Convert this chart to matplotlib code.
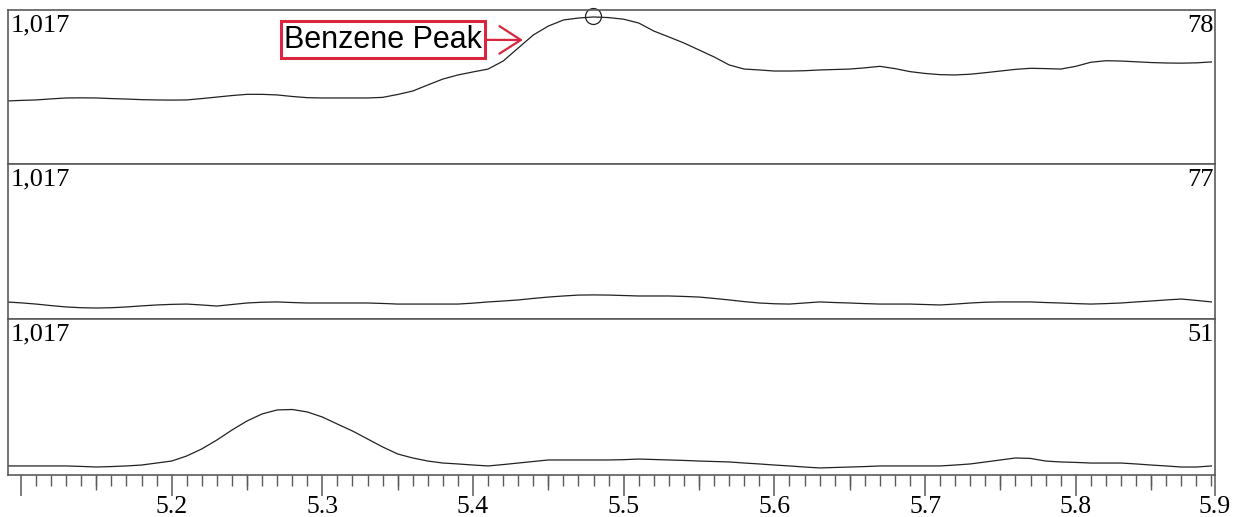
import numpy as np
import matplotlib
matplotlib.use("Agg")
import matplotlib.pyplot as plt
from matplotlib.ticker import FixedLocator, MultipleLocator

# tiempos de retención (min), paso 0.01
tiempos = [round(5.09 + 0.01 * i, 2) for i in range(81)]

# ion m/z 78
ion_78 = [416, 420, 423, 430, 436, 437, 436, 432, 429, 425,
          423, 422, 423, 432, 442, 452, 460, 460, 456, 446,
          438, 436, 436, 436, 436, 440, 459, 482, 522, 561,
          588, 608, 627, 680, 766, 852, 911, 951, 964, 971,
          967, 956, 931, 878, 839, 799, 753, 707, 654, 627,
          621, 614, 614, 616, 621, 624, 627, 635, 645, 630,
          610, 598, 590, 588, 593, 603, 614, 625, 632, 630,
          627, 645, 672, 682, 680, 675, 670, 667, 666, 668, 674]

# ion m/z 77
ion_77 = [112, 106, 98, 88, 79, 74, 72, 74, 79, 86,
          92, 96, 98, 92, 85, 95, 105, 110, 112, 108,
          105, 105, 105, 105, 105, 102, 98, 98, 98, 98,
          98, 104, 112, 118, 125, 135, 144, 151, 157, 158,
          157, 154, 151, 151, 151, 148, 144, 135, 125, 114,
          105, 100, 98, 105, 112, 108, 105, 101, 98, 98,
          98, 95, 92, 98, 105, 110, 112, 112, 112, 108,
          105, 101, 98, 101, 105, 112, 118, 125, 131, 122, 112]

# ion m/z 51
ion_51 = [59, 59, 59, 59, 59, 56, 52, 55, 59, 65,
          78, 91, 124, 170, 228, 293, 352, 398, 424, 427,
          411, 378, 332, 287, 235, 183, 137, 111, 91, 78,
          72, 65, 59, 68, 78, 88, 98, 98, 98, 98,
          98, 100, 104, 101, 98, 95, 91, 88, 85, 78,
          72, 65, 59, 52, 46, 49, 52, 55, 59, 59,
          59, 59, 59, 65, 72, 85, 98, 111, 108, 91,
          85, 82, 78, 78, 78, 72, 65, 59, 52, 52, 59]

etiquetas_ion = ["78", "77", "51"]
escala_max = "1,017"
pico_tiempo = 5.4796
pico_altura = 977

x_min, x_max = 5.0914, 5.8924
ticks_mayores = [5.1, 5.2, 5.3, 5.4, 5.5, 5.6, 5.7, 5.8, x_max]
etiquetas_ticks = ["", "5.2", "5.3", "5.4", "5.5", "5.6", "5.7", "5.8", "5.9"]

serif = "Liberation Serif"
rojo = "#d7263d"
gris_borde = "#5a5a5a"

fig = plt.figure(figsize=(12.39, 5.17), dpi=100)
izq, ancho = 8 / 1239, 1207 / 1239
paneles = [(10, 164), (164, 319), (319, 475)]
series = [ion_78, ion_77, ion_51]

ejes = []
for (y_sup, y_inf), valores, etiqueta in zip(paneles, series, etiquetas_ion):
    ax = fig.add_axes([izq, 1 - y_inf / 517, ancho, (y_inf - y_sup) / 517])
    ax.plot(tiempos, valores, color="#222222", lw=0.9)
    ax.set_xlim(x_min, x_max)
    ax.set_ylim(0, 1017)
    ax.set_yticks([])
    for s in ax.spines.values():
        s.set_color(gris_borde)
        s.set_linewidth(1.2)
    ax.text(0.002, 0.97, escala_max, transform=ax.transAxes, ha="left", va="top",
            fontsize=19, family=serif)
    ax.text(0.999, 0.97, etiqueta, transform=ax.transAxes, ha="right", va="top",
            fontsize=19, family=serif)
    ejes.append(ax)

for ax in ejes[:-1]:
    ax.set_xticks([])

ax_top = ejes[0]
ax_top.plot([pico_tiempo], [pico_altura], marker="o", ms=11.5, mfc="none",
            mec="#222222", mew=0.9, clip_on=False)
ax_top.annotate("Benzene Peak", xy=(5.4331, 819), xytext=(5.3405, 822),
                ha="center", va="center", fontsize=22, family="Liberation Sans",
                bbox=dict(boxstyle="square,pad=0.1", fc="white", ec=rojo, lw=2.2),
                arrowprops=dict(arrowstyle="->,head_length=0.7,head_width=0.45",
                                color=rojo, lw=1.6, shrinkA=0, shrinkB=0))

ax_bot = ejes[-1]
ax_bot.xaxis.set_major_locator(FixedLocator(ticks_mayores))
ax_bot.set_xticklabels(etiquetas_ticks, fontsize=18.5, family=serif)
ax_bot.xaxis.set_minor_locator(MultipleLocator(0.01))
ax_bot.tick_params(axis="x", which="major", length=15, width=1.1, color=gris_borde, pad=0)
ax_bot.tick_params(axis="x", which="minor", length=8, width=1.0, color=gris_borde)

# marcas intermedias cada 0.05
sec = ax_bot.secondary_xaxis("bottom")
sec.set_xticks([5.15, 5.25, 5.35, 5.45, 5.55, 5.65, 5.75, 5.85])
sec.set_xticklabels([])
sec.tick_params(axis="x", length=11, width=1.0, color=gris_borde)
sec.spines["bottom"].set_visible(False)

fig.savefig("out.png", dpi=100)
